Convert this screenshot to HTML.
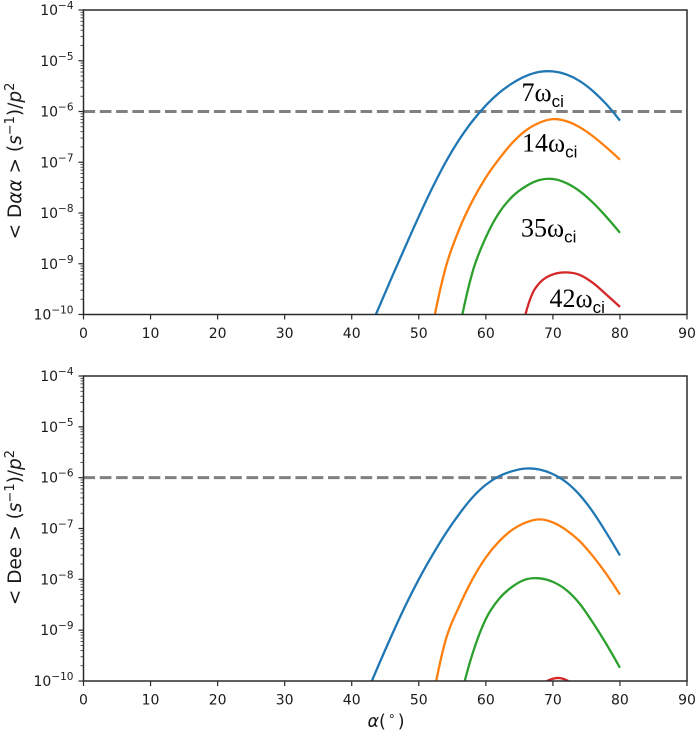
<!DOCTYPE html>
<html>
<head>
<meta charset="utf-8">
<title>Diffusion coefficients versus pitch angle</title>
<style>
html,body{margin:0;padding:0;background:#fff;width:699px;height:734px;overflow:hidden}
svg{display:block}
text{font-family:"DejaVu Sans",sans-serif;fill:#1a1a1a}
</style>
</head>
<body>
<svg id="chart" xmlns="http://www.w3.org/2000/svg" width="699" height="734" viewBox="0 0 699 734">
<defs>
<clipPath id="clip-top"><rect x="83.5" y="10" width="603.5" height="304.5"/></clipPath>
<clipPath id="clip-bottom"><rect x="83.5" y="376" width="603.5" height="305"/></clipPath>
</defs>
<g id="top-panel"></g>
<g id="bottom-panel"></g>
<text transform="translate(21,161) rotate(-90)" text-anchor="middle" font-size="18.5">&lt; D<tspan font-style="italic">αα</tspan> &gt; (<tspan font-style="italic">s</tspan><tspan dy="-7" font-size="13">−1</tspan><tspan dy="7">)/</tspan><tspan font-style="italic">p</tspan><tspan dy="-7" font-size="13">2</tspan></text>
<text transform="translate(21,527.5) rotate(-90)" text-anchor="middle" font-size="18.5">&lt; Dee &gt; (<tspan font-style="italic">s</tspan><tspan dy="-7" font-size="13">−1</tspan><tspan dy="7">)/</tspan><tspan font-style="italic">p</tspan><tspan dy="-7" font-size="13">2</tspan></text>
<text x="386" y="727" text-anchor="middle" font-size="17.5"><tspan font-style="italic">α</tspan>(<tspan dx="2" dy="-7" font-size="12.5">∘</tspan><tspan dx="2" dy="7">)</tspan></text>
<g><text x="521.5" y="101" font-size="26" style="font-family:'Liberation Serif',serif;fill:#000">7ω<tspan dy="6" font-size="17" style="font-family:'Liberation Sans',sans-serif">ci</tspan></text></g>
<g><text x="522" y="151.5" font-size="26" style="font-family:'Liberation Serif',serif;fill:#000">14ω<tspan dy="6" font-size="17" style="font-family:'Liberation Sans',sans-serif">ci</tspan></text></g>
<g><text x="521" y="236.5" font-size="26" style="font-family:'Liberation Serif',serif;fill:#000">35ω<tspan dy="6" font-size="17" style="font-family:'Liberation Sans',sans-serif">ci</tspan></text></g>
<g><text x="549.5" y="307" font-size="26" style="font-family:'Liberation Serif',serif;fill:#000">42ω<tspan dy="6" font-size="17" style="font-family:'Liberation Sans',sans-serif">ci</tspan></text></g>
</svg>
<script>
// Tick labels and reference level
const xTicks = [0, 10, 20, 30, 40, 50, 60, 70, 80, 90];
const yDecades = [-10, -9, -8, -7, -6, -5, -4];
const yMinorFactors = [2, 3, 4, 5, 6, 7, 8, 9];
const referenceLevel = -6;

// Pitch angle (deg) and log10 diffusion values, top panel
const daa7Alpha = [43.6, 46, 48, 50, 52, 54, 56, 58, 60, 62, 64, 66, 68, 70, 72, 74, 76, 78, 80];
const daa7Log = [-10, -9.26, -8.66, -8.07, -7.51, -7.0, -6.56, -6.19, -5.88, -5.63, -5.44, -5.3, -5.22, -5.21, -5.27, -5.4, -5.6, -5.86, -6.18];
const daa14Alpha = [52.4, 54, 56, 58, 60, 62, 64, 66, 68, 70, 72, 74, 76, 78, 80];
const daa14Log = [-10, -9.08, -8.33, -7.76, -7.3, -6.93, -6.61, -6.37, -6.22, -6.15, -6.19, -6.31, -6.49, -6.71, -6.95];
const daa35Alpha = [56.5, 58, 60, 62, 64, 66, 68, 70, 72, 74, 76, 78, 80];
const daa35Log = [-10, -9.17, -8.48, -7.99, -7.67, -7.47, -7.35, -7.33, -7.41, -7.57, -7.8, -8.08, -8.39];
const daa42Alpha = [65.9, 67, 68, 69, 70, 72, 74, 76, 78, 80];
const daa42Log = [-10, -9.57, -9.38, -9.27, -9.21, -9.17, -9.22, -9.38, -9.61, -9.85];

// Pitch angle (deg) and log10 diffusion values, bottom panel
const dee7Alpha = [43, 44, 46, 48, 50, 52, 54, 56, 58, 60, 62, 64, 66, 68, 70, 72, 74, 76, 78, 80];
const dee7Log = [-10, -9.69, -9.09, -8.52, -8.0, -7.53, -7.1, -6.72, -6.39, -6.14, -5.97, -5.87, -5.82, -5.84, -5.93, -6.09, -6.34, -6.68, -7.09, -7.53];
const dee14Alpha = [52.6, 54, 56, 58, 60, 62, 64, 66, 68, 70, 72, 74, 76, 78, 80];
const dee14Log = [-10, -9.2, -8.54, -8.0, -7.57, -7.25, -7.02, -6.88, -6.82, -6.88, -7.03, -7.25, -7.55, -7.9, -8.3];
const dee35Alpha = [56.85, 58, 60, 62, 64, 66, 68, 70, 72, 74, 76, 78, 80];
const dee35Log = [-10, -9.47, -8.78, -8.38, -8.14, -8.0, -7.98, -8.05, -8.21, -8.48, -8.86, -9.28, -9.74];
const dee42Alpha = [69.1, 70, 70.7, 71.5, 72.3];
const dee42Log = [-10, -9.955, -9.94, -9.955, -10];

const SVG_NS = 'http://www.w3.org/2000/svg';
const axisColor = '#2a2a2a';
const plotLeft = 83.5;
const plotRight = 687;

function xScale(alpha) {
  return plotLeft + (alpha / 90) * (plotRight - plotLeft);
}

function makeYScale(top, bottom) {
  return function (logValue) {
    return top + ((-4 - logValue) / 6) * (bottom - top);
  };
}

// Cubic Hermite curve through the values, with tangents that respect uneven spacing
function smoothPath(alpha, log, yScale) {
  const n = alpha.length;
  const m = [];
  for (let i = 0; i < n; i++) {
    if (i === 0 || i === n - 1) {
      const j = i === 0 ? 0 : n - 3;
      const h0 = alpha[j + 1] - alpha[j];
      const h1 = alpha[j + 2] - alpha[j + 1];
      const d0 = (log[j + 1] - log[j]) / h0;
      const d1 = (log[j + 2] - log[j + 1]) / h1;
      m[i] = i === 0
        ? d0 - (d1 - d0) * h0 / (h0 + h1)
        : d1 + (d1 - d0) * h1 / (h0 + h1);
    } else {
      const h0 = alpha[i] - alpha[i - 1];
      const h1 = alpha[i + 1] - alpha[i];
      const d0 = (log[i] - log[i - 1]) / h0;
      const d1 = (log[i + 1] - log[i]) / h1;
      m[i] = (h1 * d0 + h0 * d1) / (h0 + h1);
    }
  }
  let d = 'M' + xScale(alpha[0]).toFixed(2) + ' ' + yScale(log[0]).toFixed(2);
  for (let i = 0; i < n - 1; i++) {
    const h = alpha[i + 1] - alpha[i];
    d += 'C' + xScale(alpha[i] + h / 3).toFixed(2) + ' ' + yScale(log[i] + m[i] * h / 3).toFixed(2)
      + ' ' + xScale(alpha[i + 1] - h / 3).toFixed(2) + ' ' + yScale(log[i + 1] - m[i + 1] * h / 3).toFixed(2)
      + ' ' + xScale(alpha[i + 1]).toFixed(2) + ' ' + yScale(log[i + 1]).toFixed(2);
  }
  return d;
}

function addLine(parent, x1, y1, x2, y2, stroke, width) {
  const el = document.createElementNS(SVG_NS, 'line');
  el.setAttribute('x1', x1);
  el.setAttribute('y1', y1);
  el.setAttribute('x2', x2);
  el.setAttribute('y2', y2);
  el.setAttribute('stroke', stroke);
  el.setAttribute('stroke-width', width);
  parent.appendChild(el);
  return el;
}

function drawPanel(panelId, top, bottom, clipId, series) {
  const panel = document.getElementById(panelId);
  const yScale = makeYScale(top, bottom);

  // Reference line
  const ref = addLine(panel, plotLeft, yScale(referenceLevel), plotRight, yScale(referenceLevel), '#808080', 3);
  ref.setAttribute('stroke-dasharray', '11.6 4.7');
  ref.setAttribute('clip-path', 'url(#' + clipId + ')');
  
  

  // Series curves
  series.forEach(function (s) {
    const path = document.createElementNS(SVG_NS, 'path');
    path.setAttribute('d', smoothPath(s.alpha, s.log, yScale));
    path.setAttribute('fill', 'none');
    path.setAttribute('stroke', s.color);
    path.setAttribute('stroke-width', '2.3');
    path.setAttribute('clip-path', 'url(#' + clipId + ')');
    
    
    panel.appendChild(path);
  });

  // Spines
  const frame = document.createElementNS(SVG_NS, 'rect');
  frame.setAttribute('x', plotLeft);
  frame.setAttribute('y', top);
  frame.setAttribute('width', plotRight - plotLeft);
  frame.setAttribute('height', bottom - top);
  frame.setAttribute('fill', 'none');
  frame.setAttribute('stroke', axisColor);
  frame.setAttribute('stroke-width', '1.5');
  
  
  panel.appendChild(frame);

  // X ticks
  xTicks.forEach(function (tick) {
    const px = xScale(tick);
    const mark = addLine(panel, px, bottom, px, bottom + 5, axisColor, 1.2);
    
    
    const label = document.createElementNS(SVG_NS, 'text');
    label.setAttribute('x', px);
    label.setAttribute('y', bottom + 23.5);
    label.setAttribute('text-anchor', 'middle');
    label.setAttribute('font-size', '14');
    label.textContent = String(tick);
    
    
    panel.appendChild(label);
  });

  // Y ticks
  yDecades.forEach(function (decade) {
    const py = yScale(decade);
    const mark = addLine(panel, plotLeft - 5, py, plotLeft, py, axisColor, 1.2);
    
    

    const label = document.createElementNS(SVG_NS, 'text');
    label.setAttribute('x', 73.5);
    label.setAttribute('y', py + 5);
    label.setAttribute('text-anchor', 'end');
    label.setAttribute('font-size', '14');
    
    
    label.appendChild(document.createTextNode('10'));
    const sup = document.createElementNS(SVG_NS, 'tspan');
    sup.setAttribute('dy', '-6');
    sup.setAttribute('font-size', '10.5');
    sup.textContent = '−' + Math.abs(decade);
    label.appendChild(sup);
    panel.appendChild(label);

    if (decade < -4) {
      yMinorFactors.forEach(function (factor) {
        const my = yScale(decade + Math.log10(factor));
        const minor = addLine(panel, plotLeft - 3, my, plotLeft, my, axisColor, 0.8);
        
        
      });
    }
  });
}

drawPanel('top-panel', 10, 314.5, 'clip-top', [
  { label: 'daa-7wci', color: '#1f77b4', alpha: daa7Alpha, log: daa7Log },
  { label: 'daa-14wci', color: '#ff7f0e', alpha: daa14Alpha, log: daa14Log },
  { label: 'daa-35wci', color: '#2ca02c', alpha: daa35Alpha, log: daa35Log },
  { label: 'daa-42wci', color: '#d62728', alpha: daa42Alpha, log: daa42Log }
]);

drawPanel('bottom-panel', 376, 681, 'clip-bottom', [
  { label: 'dee-7wci', color: '#1f77b4', alpha: dee7Alpha, log: dee7Log },
  { label: 'dee-14wci', color: '#ff7f0e', alpha: dee14Alpha, log: dee14Log },
  { label: 'dee-35wci', color: '#2ca02c', alpha: dee35Alpha, log: dee35Log },
  { label: 'dee-42wci', color: '#d62728', alpha: dee42Alpha, log: dee42Log }
]);
</script>
</body>
</html>
